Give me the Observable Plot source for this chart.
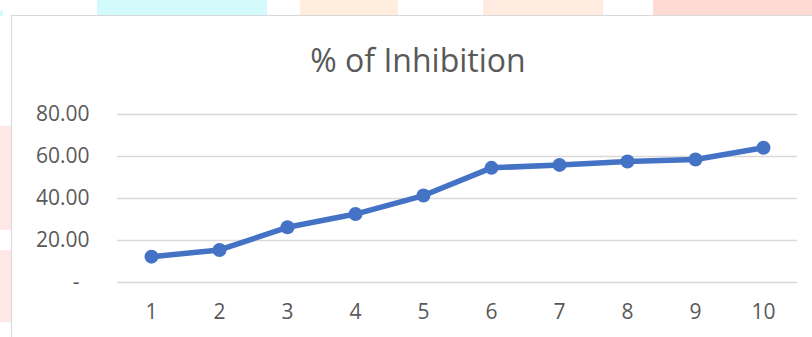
<!DOCTYPE html>
<html>
<head>
<meta charset="utf-8">
<script src="https://cdn.jsdelivr.net/npm/d3@7"></script>
<script src="https://cdn.jsdelivr.net/npm/@observablehq/plot@0.6"></script>
<style>
  html, body { margin: 0; padding: 0; background: #fff; }
  #wrap { position: relative; width: 812px; height: 337px; overflow: hidden; font-family: "Open Sans", sans-serif; }
  .wm { position: absolute; }
  #frame { position: absolute; left: 11px; top: 15px; width: 900px; height: 400px; border: 1.5px solid #d9d9d9; background: #fff; }
  #title { position: absolute; left: 11px; width: 814px; top: 44px; text-align: center; font-size: 32px; color: #595959; line-height: 1; }
  #chart { position: absolute; left: 0; top: 0; }
</style>
</head>
<body>
<div id="wrap">
  <div class="wm" style="left:97px;top:0;width:170px;height:15px;background:#d3fbfb"></div>
  <div class="wm" style="left:0;top:10px;width:3px;height:6px;background:#d3fbfb"></div>
  <div class="wm" style="left:300px;top:0;width:98px;height:15px;background:#ffeedd"></div>
  <div class="wm" style="left:483px;top:0;width:120px;height:15px;background:#ffebdf"></div>
  <div class="wm" style="left:653px;top:0;width:159px;height:15px;background:#ffdad3"></div>
  <div class="wm" style="left:0;top:126px;width:11px;height:104px;background:#ffe8e8"></div>
  <div class="wm" style="left:0;top:250px;width:11px;height:72px;background:#ffe8e8"></div>
  <div id="frame"></div>
  <div id="title">% of Inhibition</div>
  <div id="chart"></div>
</div>
<script>
const categories = [1, 2, 3, 4, 5, 6, 7, 8, 9, 10];
const inhibition = [12.3, 15.5, 26.3, 32.6, 41.4, 54.6, 56.0, 57.6, 58.6, 64.2];
const yTicks = [20, 40, 60, 80];
const gridTicks = [0, 20, 40, 60, 80];

const data = categories.map((c, i) => ({x: c, y: inhibition[i]}));
const blue = "#4472C4";
const gray = "#595959";

const plot = Plot.plot({
  width: 812,
  height: 337,
  marginLeft: 117,
  marginRight: 15,
  marginTop: 114,
  marginBottom: 55,
  style: {background: "transparent", fontFamily: "Open Sans, sans-serif", fontSize: "21px", color: gray, overflow: "visible"},
  x: {type: "point", domain: categories, padding: 0.5},
  y: {domain: [0, 80]},
  marks: [
    Plot.ruleY(gridTicks, {stroke: "#d9d9d9", strokeWidth: 1.5}),
    Plot.axisY(yTicks, {tickSize: 0, tickPadding: 28, tickFormat: d => d.toFixed(2), fill: gray, label: null}),
    Plot.axisY([0], {tickSize: 0, tickPadding: 38, tickFormat: () => "-", fill: gray, label: null}),
    Plot.axisX(categories, {tickSize: 0, tickPadding: 22, fill: gray, label: null}),
    Plot.line(data, {x: "x", y: "y", stroke: blue, strokeWidth: 5.5, strokeLinejoin: "round"}),
    Plot.dot(data, {x: "x", y: "y", r: 7, fill: blue, stroke: "none"})
  ]
});
document.getElementById("chart").appendChild(plot);
</script>
</body>
</html>
